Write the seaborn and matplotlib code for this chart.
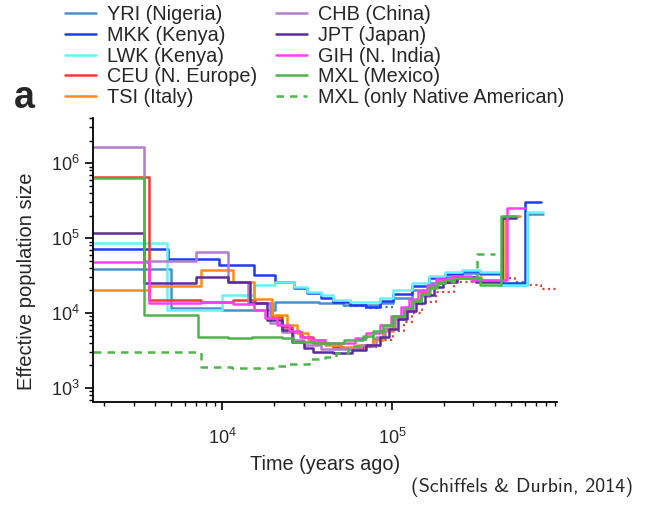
import matplotlib
matplotlib.use("Agg")
import matplotlib.pyplot as plt
import pandas as pd
import seaborn as sns
from matplotlib.ticker import LogLocator

# Piecewise-constant effective population size histories.
# *_t: interval edges in years ago (one more entry than values); *_ne: Ne per interval.
yri_t = [1000, 4970, 10000, 20400, 37100, 51000, 84600, 101400, 129700, 163800,
         204000, 257400, 329600, 433500, 616600, 770600]
yri_ne = [3.9e4, 1.17e4, 1.1e4, 1.41e4, 1.35e4, 1.28e4, 1.35e4, 1.6e4, 2.0e4, 2.5e4,
          3.0e4, 3.4e4, 3.3e4, 2.4e4, 2.1e5]

mkk_t = [1000, 4790, 9600, 15230, 20400, 26360, 31620, 37770, 44550, 55970, 69900,
         84600, 101400, 129700, 163800, 204000, 257400, 329600, 433500, 602600, 750000]
mkk_ne = [7.1e4, 5.3e4, 4.4e4, 3.2e4, 2.6e4, 2.13e4, 1.83e4, 1.57e4, 1.41e4, 1.28e4,
          1.22e4, 1.45e4, 1.8e4, 2.3e4, 2.9e4, 3.3e4, 3.6e4, 3.4e4, 2.5e4, 3.05e5]

lwk_t = [1000, 4700, 10000, 15230, 20400, 26360, 31620, 37770, 44550, 55970, 84600,
         101400, 129700, 163800, 204000, 257400, 329600, 433500, 621000, 770600]
lwk_ne = [8.6e4, 1.1e4, 1.74e4, 2.36e4, 2.6e4, 2.24e4, 1.92e4, 1.74e4, 1.49e4, 1.41e4,
          1.6e4, 2.0e4, 2.5e4, 3.1e4, 3.5e4, 3.7e4, 3.5e4, 2.36e4, 2.2e5]

ceu_t = [1000, 3675, 7490, 11580, 15500, 19580, 22450, 25750, 29530, 33870, 44550,
         51090, 67200, 77070, 88400, 101400, 116300, 129700, 146300, 163800, 182600,
         230900, 330000]
ceu_ne = [6.5e5, 1.5e4, 1.42e4, 1.5e4, 1.35e4, 8.9e3, 6.6e3, 5.5e3, 4.8e3, 4.0e3,
          3.55e3, 3.4e3, 3.6e3, 4.5e3, 6.0e3, 8.5e3, 1.1e4, 1.45e4, 1.8e4, 2.2e4,
          2.6e4, 2.9e4]

tsi_t = [1000, 3675, 7490, 11580, 15230, 19580, 24000, 27500, 32000, 40000, 50000,
         62000, 77000, 88400, 101400, 116300, 129700, 146300, 163800, 182600, 230900,
         330000, 458000, 562000]
tsi_ne = [2.0e4, 2.3e4, 3.7e4, 2.6e4, 1.52e4, 9.4e3, 6.9e3, 5.4e3, 4.4e3, 3.74e3,
          3.55e3, 3.7e3, 4.3e3, 5.8e3, 8.5e3, 1.15e4, 1.5e4, 1.9e4, 2.3e4, 2.7e4,
          3.0e4, 2.8e4, 2.0e5]

chb_t = [1000, 3435, 7000, 10800, 14220, 19000, 22450, 26000, 30000, 38000, 65000,
         80000, 90000, 103000, 118000, 132000, 148000, 166000, 185000, 232000, 300000,
         444000, 540000]
chb_ne = [1.64e6, 5.0e4, 6.6e4, 2.6e4, 1.36e4, 7.4e3, 5.5e3, 4.4e3, 3.7e3, 3.3e3,
          3.8e3, 4.8e3, 6.3e3, 8.2e3, 1.05e4, 1.35e4, 1.7e4, 2.2e4, 2.7e4, 3.0e4,
          2.7e4, 1.9e5]

jpt_t = [1000, 3435, 7000, 10800, 14470, 18260, 22450, 25750, 30000, 34000, 44550,
         58000, 70000, 84600, 95000, 108000, 122000, 137000, 155000, 175000, 198000,
         240000, 310000, 444000, 530000]
jpt_ne = [1.17e5, 2.5e4, 3.0e4, 2.6e4, 1.38e4, 8.0e3, 5.9e3, 4.1e3, 3.4e3, 3.05e3,
          2.9e3, 3.2e3, 3.8e3, 4.8e3, 6.2e3, 8.2e3, 1.05e4, 1.35e4, 1.75e4, 2.2e4,
          2.6e4, 3.0e4, 2.6e4, 1.83e5]

gih_t = [1000, 3675, 7490, 11580, 15230, 17800, 21000, 24500, 28500, 33000, 40000,
         60000, 70000, 84600, 98000, 112000, 126000, 142000, 160000, 180000, 225000,
         290000, 475000, 602600]
gih_ne = [4.8e4, 1.36e4, 1.41e4, 1.3e4, 1.1e4, 8.5e3, 7.0e3, 5.8e3, 4.8e3, 4.3e3,
          4.0e3, 4.6e3, 5.4e3, 7.0e3, 9.2e3, 1.2e4, 1.55e4, 1.95e4, 2.4e4, 2.85e4,
          3.1e4, 2.75e4, 2.5e5]

mxl_t = [1000, 3435, 7170, 10800, 14900, 22450, 26000, 35400, 52000, 67200, 77000,
         88400, 101400, 116300, 129700, 146300, 163800, 182600, 204000, 230900, 329600,
         433500, 537000]
mxl_ne = [6.3e5, 9.4e3, 4.8e3, 4.6e3, 4.8e3, 4.6e3, 4.1e3, 4.0e3, 4.3e3, 5.0e3,
          5.8e3, 7.0e3, 9.0e3, 1.15e4, 1.45e4, 1.8e4, 2.15e4, 2.5e4, 2.75e4, 2.95e4,
          2.36e4, 1.96e5]

nat_t = [1000, 7490, 11300, 20400, 24500, 32500, 40000, 46400, 55000, 65000, 77000,
         88400, 101400, 116300, 129700, 146300, 163800, 182600, 230900, 315000, 399000]
nat_ne = [3.0e3, 1.93e3, 1.85e3, 1.95e3, 2.1e3, 2.4e3, 2.6e3, 2.9e3, 3.6e3, 4.5e3,
          5.5e3, 7.0e3, 9.0e3, 1.15e4, 1.45e4, 1.8e4, 2.2e4, 2.6e4, 2.9e4, 6.2e4]

# Two-haplotype reference curves (dotted, no legend entry)
ceu2_t = [56000, 70000, 84600, 101400, 116300, 130000, 150000, 180000, 230000,
          330000, 470000, 525000, 600000, 750000, 920000]
ceu2_ne = [3.2e3, 3.5e3, 4.3e3, 5.8e3, 7.5e3, 1.0e4, 1.4e4, 1.9e4, 2.6e4, 3.3e4,
           2.95e4, 2.6e4, 2.36e4, 2.1e4]
yri2_t = [52000, 70000, 84600, 101400]
yri2_ne = [1.25e4, 1.16e4, 1.2e4]

series = [
    ("YRI (Nigeria)", yri_t, yri_ne, "#4b8fcb", "-"),
    ("MKK (Kenya)", mkk_t, mkk_ne, "#1d3cf2", "-"),
    ("LWK (Kenya)", lwk_t, lwk_ne, "#66f2fb", "-"),
    ("CEU (N. Europe)", ceu_t, ceu_ne, "#f23b30", "-"),
    ("TSI (Italy)", tsi_t, tsi_ne, "#ff8b17", "-"),
    ("CHB (China)", chb_t, chb_ne, "#b27dc9", "-"),
    ("JPT (Japan)", jpt_t, jpt_ne, "#5a2c9c", "-"),
    ("GIH (N. India)", gih_t, gih_ne, "#ff40f2", "-"),
    ("MXL (Mexico)", mxl_t, mxl_ne, "#4fb54b", "-"),
    ("MXL (only Native American)", nat_t, nat_ne, "#4fb54b", (0, (3.0, 2.4))),
]
extras = [
    (yri2_t, yri2_ne, "#3d6fd8"),
    (ceu2_t, ceu2_ne, "#d0503c"),
]

sns.set_theme(style="ticks")
plt.rcParams["font.family"] = ["Liberation Sans", "DejaVu Sans"]
plt.rcParams["mathtext.fontset"] = "custom"
plt.rcParams["mathtext.rm"] = "Liberation Sans"

fig = plt.figure(figsize=(6.46, 5.07), dpi=100)
ax = fig.add_axes([93 / 646, 1 - 402 / 507, 464 / 646, 284 / 507])


def steps(t, ne):
    return pd.DataFrame({"time": t, "ne": list(ne) + [ne[-1]]})


for t, ne, color in extras:
    sns.lineplot(data=steps(t, ne), x="time", y="ne", ax=ax, color=color,
                 lw=1.6, linestyle=(0, (1, 1.5)), drawstyle="steps-post",
                 estimator=None, sort=False)

for name, t, ne, color, ls in series:
    sns.lineplot(data=steps(t, ne), x="time", y="ne", ax=ax, color=color,
                 lw=1.8, linestyle=ls, drawstyle="steps-post",
                 estimator=None, sort=False, label=name)

ax.set_xscale("log")
ax.set_yscale("log")
ax.set_xlim(1730, 9.3e5)
ax.set_ylim(650, 4.0e6)
ax.yaxis.set_major_locator(LogLocator(base=10, numticks=10))
ax.yaxis.set_minor_locator(LogLocator(base=10, subs=range(2, 10), numticks=20))
ax.xaxis.set_minor_locator(LogLocator(base=10, subs=range(2, 10), numticks=20))

sns.despine(ax=ax)
for side in ("left", "bottom"):
    ax.spines[side].set_linewidth(1.3)
    ax.spines[side].set_color("black")
ax.tick_params(which="major", length=5.5, width=1.2, direction="out",
               labelsize=13, color="black")
ax.tick_params(axis="x", which="major", pad=13)
ax.tick_params(axis="y", which="major", pad=4)
ax.tick_params(which="minor", length=3, width=1.0, direction="out", color="black")

ax.set_xlabel("Time (years ago)", fontsize=14.3, labelpad=5)
ax.set_ylabel("Effective population size", fontsize=14.5)
ax.yaxis.set_label_coords(-0.123, 0.426)

handles, labels = ax.get_legend_handles_labels()
ax.legend(handles, labels, ncol=2, loc="upper left",
          bbox_to_anchor=(65 / 646, 1 - 5 / 507), bbox_transform=fig.transFigure,
          frameon=False, fontsize=14.3, handlelength=1.55, handletextpad=0.55,
          columnspacing=0.95, labelspacing=0.09, borderpad=0, borderaxespad=0)

fig.text(14 / 646, 1 - 108 / 507, "a", fontsize=27, fontweight="bold",
         ha="left", va="baseline")
fig.text(633 / 646, 1 - 487 / 507, "(Schiffels & Durbin, 2014)",
         fontsize=14.4, family=["cmss10", "DejaVu Sans"], ha="right", va="center")

fig.savefig("out.png", dpi=100)
